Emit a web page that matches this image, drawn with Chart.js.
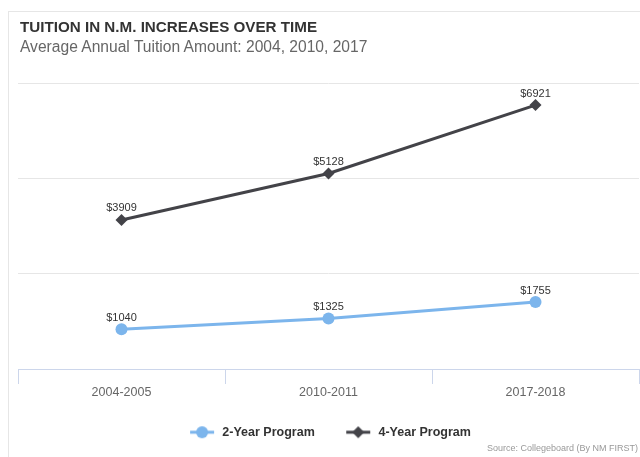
<!DOCTYPE html>
<html>
<head>
<meta charset="utf-8">
<script src="https://cdn.jsdelivr.net/npm/chart.js@4/dist/chart.umd.min.js"></script>
<style>
  html, body { margin: 0; background: #fff; overflow: hidden; width: 640px; height: 457px;
               font-family: "Liberation Sans", Arial, sans-serif; }
  #frame { position: absolute; left: 8px; top: 11px; width: 632px; height: 446px;
           border-left: 1px solid #e6e6e6; border-top: 1px solid #e6e6e6; }
  #title { position: absolute; left: 20px; top: 19px; font-size: 15.2px; line-height: 15px;
           font-weight: bold; color: #333; }
  #subtitle { position: absolute; left: 20px; top: 39px; font-size: 15.6px; line-height: 16px; color: #666; }
  #source { position: absolute; right: 2px; top: 444px; font-size: 9px; line-height: 9px; color: #999; }
  #wrap { position: absolute; left: 0; top: 0; width: 640px; height: 457px; }
</style>
</head>
<body>
<div id="frame"></div>
<div id="wrap"><canvas id="tuitionChart"></canvas></div>
<div id="title">TUITION IN N.M. INCREASES OVER TIME</div>
<div id="subtitle">Average Annual Tuition Amount: 2004, 2010, 2017</div>
<div id="source">Source: Collegeboard (By NM FIRST)</div>
<script>
const years = ["2004-2005", "2010-2011", "2017-2018"];
const twoYear = [1040, 1325, 1755];
const fourYear = [3909, 5128, 6921];
const seriesNames = ["2-Year Program", "4-Year Program"];
const blue = "#7cb5ec";
const dark = "#434348";
const font = "'Liberation Sans', Arial, sans-serif";

// little line+marker symbol for the legend, like the original
function legendSymbol(color, shape) {
  const c = document.createElement("canvas");
  c.width = 30;
  c.height = 14;
  const g = c.getContext("2d");
  g.strokeStyle = color;
  g.fillStyle = color;
  g.lineWidth = 3;
  g.beginPath();
  g.moveTo(4, 7);
  g.lineTo(28, 7);
  g.stroke();
  g.beginPath();
  if (shape === "circle") {
    g.arc(16, 7, 6, 0, Math.PI * 2);
  } else {
    g.moveTo(16, 1); g.lineTo(22, 7); g.lineTo(16, 13); g.lineTo(10, 7); g.closePath();
  }
  g.fill();
  return c;
}
const symbols = [legendSymbol(blue, "circle"), legendSymbol(dark, "diamond")];

const valueLabels = {
  id: "valueLabels",
  afterDatasetsDraw(chart) {
    const ctx = chart.ctx;
    ctx.save();
    ctx.font = "11px " + font;
    ctx.fillStyle = "#333";
    ctx.textAlign = "center";
    ctx.textBaseline = "bottom";
    chart.data.datasets.forEach((ds, i) => {
      chart.getDatasetMeta(i).data.forEach((pt, j) => {
        ctx.fillText("$" + ds.data[j], pt.x, pt.y - 6);
      });
    });
    ctx.restore();
  }
};

new Chart(document.getElementById("tuitionChart"), {
  type: "line",
  data: {
    labels: years,
    datasets: [
      {
        label: seriesNames[0],
        data: twoYear,
        borderColor: blue,
        backgroundColor: blue,
        borderWidth: 3,
        pointStyle: "circle",
        pointRadius: 6,
        pointBorderWidth: 0,
        pointHoverRadius: 6
      },
      {
        label: seriesNames[1],
        data: fourYear,
        borderColor: dark,
        backgroundColor: dark,
        borderWidth: 3,
        pointStyle: "rectRot",
        pointRadius: 6,
        pointBorderWidth: 0,
        pointHoverRadius: 6
      }
    ]
  },
  options: {
    responsive: true,
    maintainAspectRatio: false,
    animation: false,
    layout: { autoPadding: false, padding: { top: 83, left: 18, right: 1, bottom: 8.5 } },
    plugins: {
      tooltip: { enabled: false },
      legend: {
        position: "bottom",
        labels: {
          usePointStyle: true,
          pointStyleWidth: 30,
          boxHeight: 12,
          padding: 24,
          color: "#333",
          font: { family: font, size: 12.5, weight: "bold" },
          generateLabels(chart) {
            // trailing space on the first entry widens the gap between entries
            return chart.data.datasets.map((ds, i) => ({
              text: i === 0 ? ds.label + " " : ds.label,
              pointStyle: symbols[i],
              fillStyle: ds.borderColor,
              strokeStyle: ds.borderColor,
              lineWidth: 0,
              datasetIndex: i,
              fontColor: "#333"
            }));
          }
        }
      }
    },
    scales: {
      x: {
        offset: true,
        border: { display: true, color: "#ccd6eb", width: 1 },
        grid: { offset: true, drawOnChartArea: false, color: "#ccd6eb", tickLength: 15 },
        ticks: { color: "#666", padding: 1.5, font: { family: font, size: 12.5 } }
      },
      y: {
        min: 0,
        max: 7500,
        border: { display: false },
        grid: {
          drawTicks: false,
          color: (c) => (c.tick && c.tick.value === 0 ? "rgba(0,0,0,0)" : "#e6e6e6")
        },
        ticks: { display: false, stepSize: 2500 }
      }
    }
  },
  plugins: [valueLabels]
});
</script>
</body>
</html>
